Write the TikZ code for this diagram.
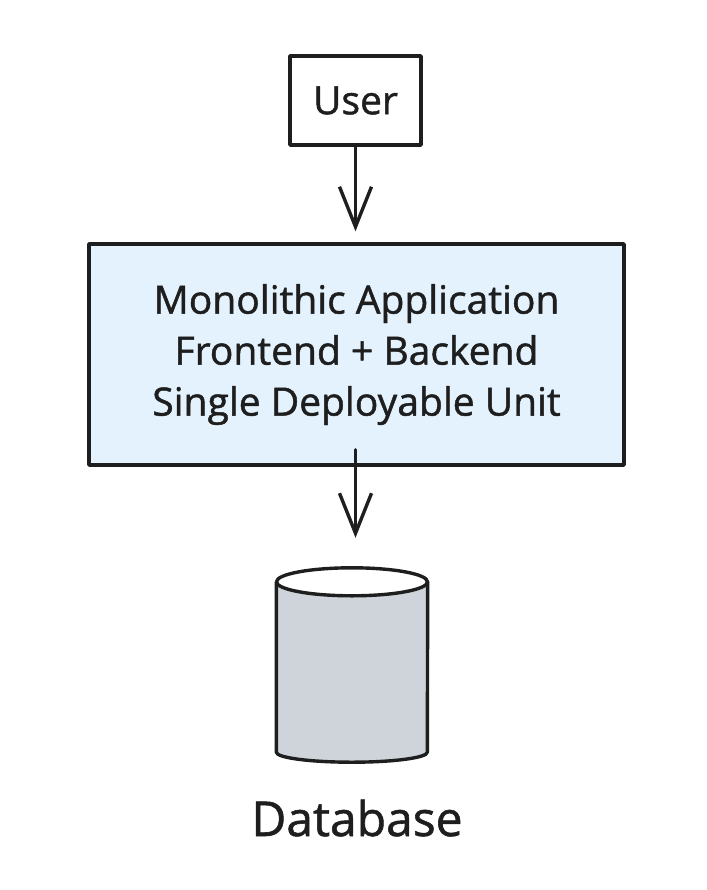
\documentclass[tikz,border=0pt]{standalone}
\usepackage{fontspec}
\setmainfont{Open Sans}[FakeBold=1.2]
\usepackage{xcolor}
\usepackage{tikz}
\usetikzlibrary{arrows.meta}

\definecolor{appblue}{HTML}{E3F2FC}
\definecolor{dbgray}{HTML}{CED4DA}
\definecolor{ink}{HTML}{1E1E1E}

\begin{document}
\begin{tikzpicture}[
  x=1pt, y=1pt,
  every node/.style={font=\fontsize{39}{51}\selectfont, text=ink},
  ln/.style={draw=ink, line width=3.4pt, line join=round, line cap=round},
  ubox/.style={ln, fill=white, minimum width=131pt, minimum height=89pt,
             inner sep=0pt},
  abox/.style={ln, fill=appblue, minimum width=535pt, minimum height=221pt,
             align=center, inner sep=0pt},
  dbbody/.style={inner sep=0pt, minimum width=151pt, minimum height=170pt},
  arr/.style={ln, -{Straight Barb[length=40pt, width=32pt, line width=3.4pt]}},
]
\useasboundingbox (0,0) rectangle (706,-890);

\node[ubox] (user) at (355.5,-100.5) {User};
\node[abox] (app)  at (356.5,-354.5)
  {Monolithic Application\\Frontend + Backend\\Single Deployable Unit};
\node[dbbody] (db) at (352,-667) {};
\node[font=\fontsize{48}{56}\selectfont] (dblabel) at (357,-818) {Database};

% cylinder
\fill[dbgray] (db.north west) -- (db.south west)
  arc[start angle=180, end angle=360, x radius=75.5pt, y radius=10pt]
  -- (db.north east) -- cycle;
\draw[ln] (db.north west) -- (db.south west)
  arc[start angle=180, end angle=360, x radius=75.5pt, y radius=10pt]
  -- (db.north east);
\draw[ln, fill=white] (db.north) ellipse[x radius=75.5pt, y radius=14pt];

\draw[arr, shorten >=11pt] (user.south) -- (user.south |- app.north);
\draw[arr] ([yshift=17pt]user.south |- app.south) -- ([yshift=44pt]user.south |- db.north);
\end{tikzpicture}
\end{document}
